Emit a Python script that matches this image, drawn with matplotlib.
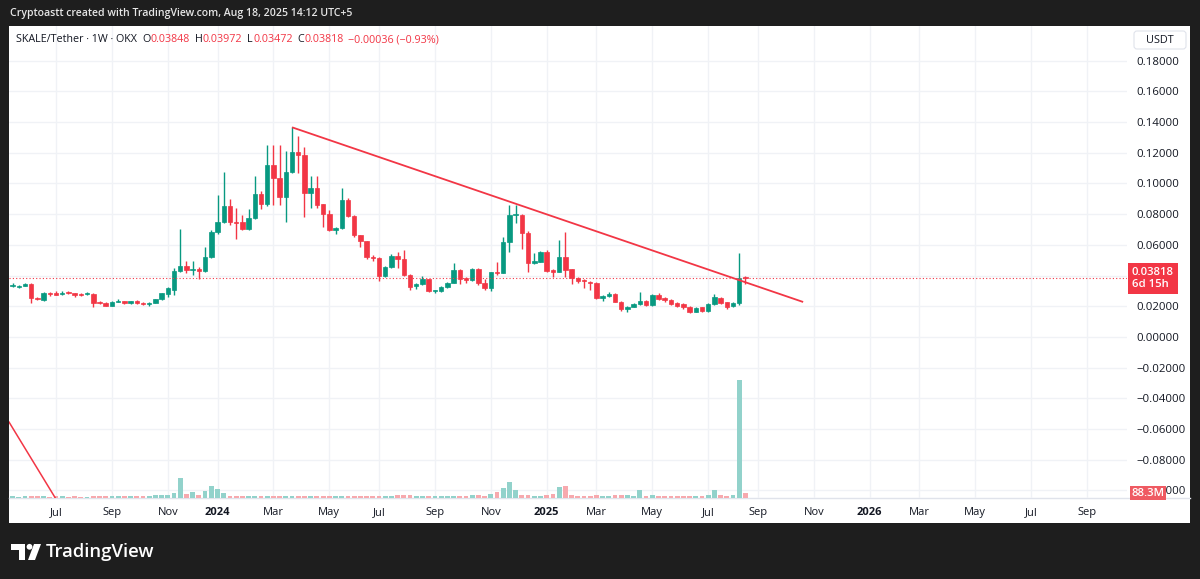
import matplotlib
matplotlib.use("Agg")
import matplotlib.pyplot as plt
import matplotlib.dates as mdates
import numpy as np
import pandas as pd
from matplotlib.patches import Rectangle, FancyBboxPatch, Polygon, Circle

W, H = 1200, 579
FONT = ["Open Sans", "DejaVu Sans"]
plt.rcParams['font.family'] = FONT

# ---------------- data ----------------
last_week = "2025-08-18"
opens = [.0332, .0328, .0334, .0345, .0252, .0241, .0284, .0285, .0278, .0291,
         .0287, .0280, .0278, .0282, .0226, .0224, .0204, .0230, .0235, .0219,
         .0235, .0221, .0217, .0224, .0246, .0280, .0306, .0432, .0462, .0438,
         .0445, .0432, .0523, .0686, .0751, .0853, .0751, .0749, .0706, .0775,
         .0932, .0866, .1120, .1038, .0910, .1077, .1203, .1188, .0940, .0969,
         .0864, .0799, .0695, .0712, .0890, .0786, .0662, .0625, .0521, .0515,
         .0397, .0456, .0528, .0506, .0404, .0334, .0343, .0378, .0300, .0300,
         .0324, .0354, .0436, .0382, .0371, .0445, .0354, .0317, .0421, .0419,
         .0621, .0797, .0795, .0675, .0480, .0490, .0552, .0436, .0425, .0523,
         .0441, .0386, .0371, .0360, .0350, .0256, .0267, .0280, .0230, .0180,
         .0197, .0213, .0235, .0208, .0274, .0252, .0241, .0219, .0215, .0197,
         .0165, .0193, .0169, .0215, .0252, .0228, .0202, .0223, .03848]
highs = [.0350, .0338, .0352, .0350, .0263, .0293, .0293, .0297, .0297, .0302,
         .0289, .0287, .0291, .0289, .0232, .0226, .0232, .0248, .0237, .0237,
         .0239, .0226, .0228, .0250, .0289, .0324, .0450, .0704, .0495, .0495,
         .0456, .0588, .0699, .0925, .1077, .0899, .0840, .0795, .0834, .1049,
         .0954, .1254, .1254, .1254, .1214, .1366, .1310, .1236, .1049, .1049,
         .0868, .0825, .0719, .0969, .0903, .0795, .0664, .0627, .0534, .0521,
         .0462, .0541, .0556, .0567, .0410, .0352, .0397, .0380, .0306, .0330,
         .0360, .0484, .0443, .0391, .0450, .0447, .0378, .0426, .0490, .0653,
         .0860, .0860, .0801, .0690, .0547, .0558, .0567, .0441, .0632, .0686,
         .0445, .0391, .0378, .0362, .0356, .0274, .0293, .0287, .0233, .0204,
         .0219, .0295, .0241, .0280, .0287, .0258, .0248, .0226, .0219, .0204,
         .0193, .0197, .0219, .0280, .0261, .0230, .0226, .0545, .03972]
lows = [.0326, .0322, .0330, .0224, .0238, .0235, .0268, .0273, .0273, .0283,
        .0263, .0270, .0276, .0195, .0213, .0200, .0200, .0226, .0215, .0215,
        .0215, .0208, .0204, .0219, .0241, .0260, .0274, .0426, .0417, .0406,
        .0378, .0421, .0515, .0671, .0743, .0730, .0638, .0699, .0699, .0766,
        .0832, .0856, .0860, .0860, .0747, .1069, .1066, .0780, .0838, .0838,
        .0719, .0693, .0669, .0706, .0780, .0651, .0588, .0508, .0497, .0367,
        .0391, .0449, .0450, .0397, .0306, .0315, .0336, .0291, .0287, .0293,
        .0317, .0350, .0345, .0352, .0365, .0341, .0306, .0302, .0402, .0415,
        .0552, .0740, .0573, .0425, .0476, .0486, .0423, .0391, .0421, .0391,
        .0345, .0352, .0322, .0306, .0248, .0235, .0261, .0226, .0167, .0165,
        .0193, .0208, .0204, .0200, .0241, .0228, .0208, .0193, .0180, .0158,
        .0160, .0160, .0165, .0211, .0217, .0180, .0198, .0211, .03472]
closes = [.0341, .0332, .0345, .0254, .0246, .0289, .0280, .0276, .0289, .0287,
          .0274, .0276, .0284, .0224, .0221, .0204, .0230, .0237, .0219, .0235,
          .0219, .0217, .0224, .0246, .0285, .0317, .0432, .0462, .0436, .0445,
          .0432, .0523, .0686, .0747, .0853, .0751, .0740, .0706, .0775, .0932,
          .0866, .1120, .1038, .0910, .1077, .1203, .1188, .0940, .0969, .0858,
          .0799, .0695, .0712, .0890, .0786, .0662, .0625, .0521, .0515, .0397,
          .0456, .0528, .0506, .0404, .0328, .0343, .0378, .0300, .0302, .0324,
          .0354, .0436, .0378, .0371, .0445, .0354, .0317, .0423, .0415, .0621,
          .0795, .0801, .0675, .0480, .0495, .0552, .0430, .0425, .0523, .0436,
          .0382, .0365, .0362, .0350, .0252, .0267, .0280, .0230, .0180, .0197,
          .0213, .0235, .0208, .0274, .0248, .0241, .0215, .0204, .0193, .0165,
          .0191, .0167, .0215, .0259, .0224, .0197, .0223, .0385, .03818]
volumes_m = [25, 22, 26, 40, 24, 27, 22, 24, 25, 22,
             24, 22, 23, 33, 24, 26, 27, 25, 26, 24,
             26, 24, 27, 45, 53, 59, 92, 386, 73, 118,
             59, 131, 221, 171, 98, 35, 33, 27, 30, 40,
             28, 35, 30, 33, 36, 34, 28, 38, 27, 28,
             27, 30, 25, 38, 32, 30, 27, 34, 28, 36,
             30, 33, 45, 50, 48, 30, 28, 32, 27, 28,
             30, 36, 34, 30, 45, 52, 40, 73, 104, 190,
             300, 143, 45, 45, 33, 33, 45, 73, 202, 221,
             53, 36, 33, 36, 45, 40, 38, 55, 60, 48,
             40, 143, 40, 45, 38, 36, 40, 38, 36, 42,
             38, 40, 59, 157, 45, 40, 45, 2300, 88.3]

price_ticks = [0.18, 0.16, 0.14, 0.12, 0.10, 0.08, 0.06, 0.04, 0.02, 0.0,
               -0.02, -0.04, -0.06, -0.08, -0.10]
hidden_price_ticks = [0.04]
time_tick_dates = ["2023-07-03", "2023-09-04", "2023-11-06", "2024-01-01", "2024-03-04",
                   "2024-05-06", "2024-07-01", "2024-09-02", "2024-11-04", "2025-01-06",
                   "2025-03-03", "2025-05-05", "2025-07-07", "2025-09-01", "2025-11-03",
                   "2026-01-05", "2026-03-02", "2026-05-04", "2026-07-06", "2026-09-07"]
time_tick_labels = ["Jul", "Sep", "Nov", "2024", "Mar", "May", "Jul", "Sep", "Nov", "2025",
                    "Mar", "May", "Jul", "Sep", "Nov", "2026", "Mar", "May", "Jul", "Sep"]
trend_dates = ["2024-03-25", "2025-10-22"]
trend_prices = [0.1366, 0.0228]
line2_dates = ["2023-05-11", "2023-07-02"]
line2_prices = [-0.0554, -0.1047]
x_range = ["2023-05-11", "2026-10-22"]
y_range = [-0.1047, 0.2026]
last_price = 0.03818
countdown = "6d 15h"
last_volume_label = "88.3M"

GREEN = '#089981'
RED = '#f23645'
VGREEN = '#92d2cb'
VRED = '#f7a9ae'
TXT = '#131722'

# ---------------- figure ----------------
fig = plt.figure(figsize=(W / 100, H / 100), dpi=100)
fig.patch.set_facecolor('#1e1e1e')

bg = fig.add_axes([0, 0, 1, 1], zorder=0)
bg.set_xlim(0, W); bg.set_ylim(H, 0); bg.axis('off')
bg.add_patch(Rectangle((9, 26), 1181, 496.5, facecolor='white', edgecolor='none'))
bg.plot([9, 1190], [497.7, 497.7], color='#e0e3eb', lw=1)


def rect(x0, y0, x1, y1):
    return [x0 / W, 1 - y1 / H, (x1 - x0) / W, (y1 - y0) / H]


R = rect(9, 26, 1127, 497.7)
ax = fig.add_axes(R, zorder=1)
ax.set_facecolor('none')
ax_vol = fig.add_axes(R, zorder=2, sharex=ax)
ax_vol.set_facecolor('none')
ax_c = fig.add_axes(R, zorder=3, sharex=ax, sharey=ax)
ax_c.set_facecolor('none')

dates = pd.date_range(end=last_week, periods=len(opens), freq='7D')
x = mdates.date2num(dates.to_pydatetime())
o = np.array(opens); h = np.array(highs); l = np.array(lows); c = np.array(closes)
up = c >= o

xr = mdates.date2num(pd.to_datetime(x_range).to_pydatetime())
ax.set_xlim(xr[0], xr[1])
ax.set_ylim(*y_range)

# grid & ticks
tick_x = mdates.date2num(pd.to_datetime(time_tick_dates).to_pydatetime())
ax.set_xticks(tick_x)
ax.set_xticklabels(time_tick_labels)
ax.set_yticks(price_ticks)
ax.set_yticklabels(["" if p in hidden_price_ticks else
                    ("\u2212%.5f" % abs(p) if p < 0 else "%.5f" % p) for p in price_ticks])
ax.yaxis.tick_right()
ax.tick_params(axis='x', length=0, pad=7.0, labelsize=8.0, labelcolor=TXT)
ax.tick_params(axis='y', length=0, pad=6.5, labelsize=8.2, labelcolor=TXT)
for lab in ax.get_xticklabels():
    if lab.get_text().isdigit():
        lab.set_fontweight('bold')
ax.grid(True, color='#f0f2f6', lw=1)
for a in (ax, ax_vol, ax_c):
    for s in a.spines.values():
        s.set_visible(False)
for a in (ax_vol, ax_c):
    a.tick_params(left=False, right=False, bottom=False, top=False,
                  labelleft=False, labelright=False, labelbottom=False)

# volume
vh = 471.7  # axes height in px
ax_vol.set_ylim(0, vh * 19.6)
ax_vol.bar(x, volumes_m, width=5.4, color=[VGREEN if u else VRED for u in up],
           align='center', linewidth=0)

# candles
cols = [GREEN if u else RED for u in up]
ax_c.vlines(x, l, h, colors=cols, lw=1)
body_h = np.maximum(np.abs(c - o), 0.0007)
ax_c.bar(x, body_h, bottom=np.minimum(o, c), width=5.0, color=cols,
         edgecolor=cols, linewidth=0.5)

# price line
ax_c.axhline(last_price, color=RED, lw=0.8, ls=(0, (1, 2)))

# trend lines
td = mdates.date2num(pd.to_datetime(trend_dates).to_pydatetime())
ax_c.plot(td, trend_prices, color='#f23645', lw=1.3, solid_capstyle='butt')
ld = mdates.date2num(pd.to_datetime(line2_dates).to_pydatetime())
ax_c.plot(ld, line2_prices, color='#f23645', lw=1.1)

# price label
ax_c.annotate("%.5f\n%s" % (last_price, countdown), xy=(1, last_price),
              xycoords=('axes fraction', 'data'), xytext=(3.6, 0),
              textcoords='offset points', ha='left', va='center', color='white',
              fontsize=8.2, fontweight='semibold', linespacing=1.1,
              bbox=dict(boxstyle='square,pad=0.38', fc=RED, ec='none'),
              annotation_clip=False)
ax_vol.annotate(last_volume_label, xy=(1, volumes_m[-1]),
                xycoords=('axes fraction', 'data'), xytext=(3.2, 0),
                textcoords='offset points', ha='left', va='center', color='white',
                fontsize=8.2, fontweight='semibold',
                bbox=dict(boxstyle='square,pad=0.15', fc='#ef5a62', ec='none'),
                annotation_clip=False)

# ---------------- overlay text ----------------
fg = fig.add_axes([0, 0, 1, 1], zorder=5)
fg.set_xlim(0, W); fg.set_ylim(H, 0); fg.axis('off')
fg.set_facecolor('none')

fg.text(10, 13.5, "Cryptoastt created with TradingView.com, Aug 18, 2025 14:12 UTC+5",
        color='#e6e6e6', fontsize=7.6, fontweight='semibold', va='center', ha='left')

fg.add_patch(FancyBboxPatch((1134, 31), 52, 18, boxstyle='round,pad=0,rounding_size=3',
                            fc='white', ec='#e0e3eb', lw=0.8))
fg.text(1160, 40.5, "USDT", color=TXT, fontsize=7.8, ha='center', va='center')

renderer = fig.canvas.get_renderer()
pieces = [("SKALE/Tether \u00b7 1W \u00b7 OKX", TXT, 5), ("O", TXT, 0), ("0.03848", RED, 5),
          ("H", TXT, 0), ("0.03972", RED, 5), ("L", TXT, 0), ("0.03472", RED, 5),
          ("C", TXT, 0), ("0.03818", RED, 5), ("\u22120.00036 (\u22120.93%)", RED, 0)]
cx = 16.5
for txt, col, gap in pieces:
    t = fg.text(cx, 40, txt, color=col, fontsize=7.75, va='center', ha='left')
    bb = t.get_window_extent(renderer=renderer)
    cx += bb.width + gap

# TradingView logo
fg.add_patch(Polygon([(11, 544), (25, 544), (25, 560), (19, 560), (19, 549.5), (11, 549.5)],
                     closed=True, fc='white', ec='none'))
fg.add_patch(Circle((29.5, 546.8), 2.9, fc='white', ec='none'))
fg.add_patch(Polygon([(34, 544), (41, 544), (35, 560), (28, 560)], closed=True,
                     fc='white', ec='none'))
fg.text(46, 552, "TradingView", color='white', fontsize=13.3, fontweight='semibold',
        va='center', ha='left')

fig.savefig("out.png", dpi=100, facecolor=fig.get_facecolor())
